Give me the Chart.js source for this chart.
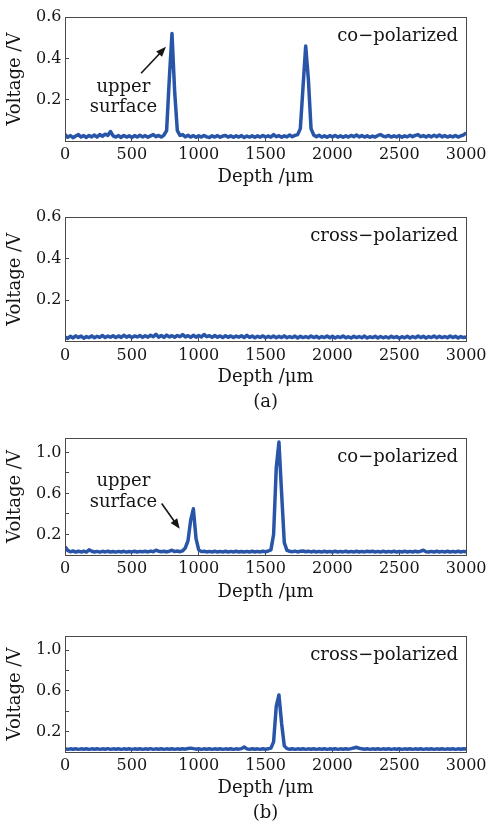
<!DOCTYPE html>
<html><head><meta charset="utf-8">
<script src="https://cdn.jsdelivr.net/npm/chart.js@4/dist/chart.umd.min.js"></script>
<style>
html,body{margin:0;padding:0;background:#fff;width:495px;height:828px;overflow:hidden}
.p{position:absolute;left:0;width:495px}
canvas{display:block}
</style></head><body>
<div class="p" style="top:0;height:200px"><canvas id="c1" width="495" height="200"></canvas></div>
<div class="p" style="top:200px;height:215px"><canvas id="c2" width="495" height="215"></canvas></div>
<div class="p" style="top:415px;height:200px"><canvas id="c3" width="495" height="200"></canvas></div>
<div class="p" style="top:615px;height:213px"><canvas id="c4" width="495" height="213"></canvas></div>
<script>
// ---- data (depth step 20 µm, 0..3000) ----
const depth = Array.from({length: 151}, (_, i) => i * 20);
const xTicks = [0, 500, 1000, 1500, 2000, 2500, 3000];
const yTicksA = [0.2, 0.4, 0.6];
const yLabelsA = ['0.2', '0.4', '0.6'];
const yTicksB = [0.2, 0.4, 0.6, 0.8, 1.0];
const yLabelsB = ['0.2', '', '0.6', '', '1.0'];

const coA = [
0.032,0.018,0.026,0.016,0.024,0.031,0.019,0.026,0.017,0.027,
0.02,0.029,0.019,0.031,0.023,0.033,0.027,0.046,0.025,0.019,
0.026,0.017,0.027,0.019,0.025,0.017,0.026,0.019,0.028,0.02,
0.026,0.018,0.025,0.031,0.021,0.027,0.019,0.029,0.05,0.3,
0.52,0.24,0.05,0.027,0.031,0.02,0.028,0.019,0.026,0.018,
0.025,0.019,0.027,0.02,0.017,0.025,0.019,0.026,0.018,0.024,
0.027,0.019,0.025,0.018,0.025,0.019,0.026,0.017,0.024,0.019,
0.025,0.018,0.025,0.019,0.027,0.02,0.025,0.019,0.031,0.021,
0.026,0.018,0.025,0.02,0.029,0.021,0.027,0.031,0.06,0.26,
0.46,0.3,0.06,0.029,0.021,0.028,0.019,0.025,0.018,0.026,
0.02,0.027,0.019,0.025,0.018,0.025,0.019,0.027,0.021,0.029,
0.02,0.026,0.019,0.025,0.018,0.024,0.019,0.027,0.031,0.023,
0.021,0.027,0.019,0.025,0.02,0.026,0.018,0.025,0.02,0.028,
0.021,0.027,0.031,0.021,0.026,0.019,0.027,0.02,0.028,0.021,
0.029,0.02,0.026,0.019,0.025,0.02,0.027,0.019,0.025,0.029,
0.04];

const crossA = [
0.022,0.015,0.025,0.017,0.027,0.019,0.026,0.016,0.024,0.019,
0.027,0.018,0.025,0.02,0.029,0.019,0.026,0.021,0.028,0.019,
0.027,0.02,0.03,0.021,0.028,0.019,0.027,0.022,0.029,0.02,
0.028,0.021,0.03,0.023,0.035,0.021,0.029,0.02,0.031,0.022,
0.028,0.021,0.029,0.023,0.033,0.022,0.028,0.02,0.03,0.021,
0.029,0.022,0.034,0.023,0.028,0.02,0.029,0.021,0.027,0.019,
0.028,0.02,0.027,0.019,0.026,0.021,0.028,0.019,0.03,0.02,
0.026,0.018,0.025,0.02,0.027,0.018,0.025,0.019,0.026,0.018,
0.025,0.019,0.027,0.018,0.024,0.019,0.026,0.017,0.025,0.019,
0.024,0.018,0.026,0.019,0.025,0.017,0.024,0.019,0.026,0.018,
0.025,0.017,0.024,0.019,0.026,0.018,0.023,0.017,0.025,0.019,
0.024,0.018,0.026,0.017,0.023,0.019,0.025,0.017,0.024,0.018,
0.023,0.017,0.025,0.019,0.024,0.016,0.023,0.018,0.025,0.017,
0.024,0.018,0.026,0.019,0.025,0.017,0.024,0.019,0.026,0.018,
0.025,0.019,0.024,0.018,0.026,0.019,0.025,0.017,0.024,0.019,
0.022];

const coB = [
0.08,0.045,0.031,0.039,0.029,0.037,0.03,0.036,0.029,0.05,
0.037,0.029,0.035,0.028,0.036,0.03,0.037,0.029,0.034,0.028,
0.035,0.029,0.036,0.028,0.034,0.03,0.037,0.029,0.035,0.031,
0.036,0.03,0.038,0.032,0.046,0.037,0.031,0.036,0.03,0.037,
0.046,0.033,0.039,0.032,0.041,0.07,0.14,0.34,0.45,0.16,
0.05,0.033,0.037,0.03,0.035,0.029,0.036,0.03,0.035,0.029,
0.036,0.03,0.035,0.029,0.036,0.03,0.034,0.029,0.035,0.03,
0.036,0.029,0.035,0.03,0.037,0.031,0.039,0.05,0.2,0.85,
1.1,0.6,0.12,0.045,0.037,0.031,0.038,0.03,0.036,0.039,
0.032,0.037,0.03,0.036,0.029,0.035,0.03,0.036,0.029,0.035,
0.03,0.036,0.029,0.035,0.03,0.037,0.029,0.035,0.03,0.036,
0.029,0.035,0.03,0.037,0.031,0.036,0.029,0.035,0.03,0.036,
0.03,0.035,0.029,0.036,0.03,0.035,0.029,0.036,0.03,0.035,
0.029,0.036,0.03,0.037,0.046,0.032,0.029,0.035,0.03,0.036,
0.029,0.035,0.03,0.036,0.029,0.035,0.03,0.036,0.029,0.035,
0.032];

const crossB = [
0.033,0.026,0.031,0.027,0.032,0.026,0.031,0.027,0.032,0.026,
0.031,0.027,0.032,0.026,0.031,0.027,0.033,0.026,0.031,0.027,
0.032,0.026,0.031,0.027,0.032,0.026,0.031,0.027,0.032,0.026,
0.031,0.027,0.033,0.026,0.031,0.027,0.032,0.026,0.031,0.027,
0.032,0.026,0.031,0.027,0.032,0.028,0.035,0.038,0.033,0.028,
0.032,0.026,0.031,0.027,0.032,0.026,0.031,0.027,0.032,0.026,
0.031,0.027,0.032,0.026,0.031,0.028,0.033,0.05,0.031,0.026,
0.032,0.027,0.031,0.026,0.032,0.028,0.031,0.038,0.1,0.45,
0.56,0.28,0.06,0.033,0.027,0.032,0.026,0.031,0.027,0.032,
0.026,0.031,0.027,0.032,0.026,0.031,0.027,0.032,0.026,0.031,
0.027,0.032,0.026,0.031,0.027,0.032,0.028,0.033,0.04,0.046,
0.037,0.031,0.027,0.032,0.026,0.031,0.027,0.032,0.026,0.031,
0.027,0.032,0.026,0.031,0.027,0.032,0.026,0.031,0.027,0.032,
0.026,0.031,0.027,0.032,0.026,0.031,0.027,0.032,0.026,0.031,
0.027,0.032,0.026,0.031,0.027,0.032,0.026,0.031,0.027,0.032,
0.029];

// ---- style ----
const FONT = "'DejaVu Serif', serif";
const LINE = '#2955a8';
const FRAME = '#4a4a4a';
const TEXT = '#151515';

const deco = {
  id: 'deco',
  afterDraw(chart) {
    const o = chart.options.plugins.deco;
    const ctx = chart.ctx, a = chart.chartArea;
    ctx.save();
    ctx.strokeStyle = FRAME; ctx.lineWidth = 1;
    ctx.strokeRect(Math.round(a.left) + 0.5, Math.round(a.top) + 0.5, Math.round(a.right - a.left), Math.round(a.bottom - a.top));
    ctx.fillStyle = TEXT;
    ctx.font = '18px ' + FONT;
    ctx.textAlign = 'right'; ctx.textBaseline = 'middle';
    ctx.fillText(o.corner, a.right - 8, a.top + 19);
    if (o.note) {
      const xs = chart.scales.x, ys = chart.scales.y;
      ctx.textAlign = 'center';
      ctx.fillText('upper', xs.getPixelForValue(o.note.tx), ys.getPixelForValue(o.note.ty1));
      ctx.fillText('surface', xs.getPixelForValue(o.note.tx), ys.getPixelForValue(o.note.ty2));
      const x1 = xs.getPixelForValue(o.note.ax1), y1 = ys.getPixelForValue(o.note.ay1);
      const x2 = xs.getPixelForValue(o.note.ax2), y2 = ys.getPixelForValue(o.note.ay2);
      const ang = Math.atan2(y2 - y1, x2 - x1);
      ctx.strokeStyle = TEXT; ctx.lineWidth = 1.6;
      ctx.beginPath(); ctx.moveTo(x1, y1);
      ctx.lineTo(x2 - 6 * Math.cos(ang), y2 - 6 * Math.sin(ang)); ctx.stroke();
      ctx.beginPath();
      ctx.moveTo(x2, y2);
      ctx.lineTo(x2 - 10 * Math.cos(ang) + 4 * Math.sin(ang), y2 - 10 * Math.sin(ang) - 4 * Math.cos(ang));
      ctx.lineTo(x2 - 10 * Math.cos(ang) - 4 * Math.sin(ang), y2 - 10 * Math.sin(ang) + 4 * Math.cos(ang));
      ctx.closePath(); ctx.fill();
    }
    ctx.restore();
  }
};

function panel(id, values, o) {
  new Chart(document.getElementById(id), {
    type: 'line',
    data: { datasets: [{ data: depth.map((d, i) => ({x: d, y: values[i]})),
      borderColor: LINE, borderWidth: 3.5, pointRadius: 0, tension: 0, fill: false,
      borderJoinStyle: 'round' }] },
    options: {
      responsive: false, animation: false, events: [],
      layout: { padding: { top: o.padTop, right: 21, left: 0, bottom: 0 } },
      plugins: { legend: { display: false }, tooltip: { enabled: false },
        deco: { corner: o.corner, note: o.note } },
      scales: {
        x: {
          type: 'linear', min: 0, max: 3000,
          afterBuildTicks: s => { s.ticks = xTicks.map(v => ({value: v})); },
          afterFit: s => { s.height = o.xH; },
          border: { color: FRAME, width: 1 },
          grid: { drawOnChartArea: false, tickLength: -4, tickColor: FRAME },
          ticks: { font: { family: FONT, size: 16 }, color: TEXT, padding: 8.5, maxRotation: 0,
            callback: v => String(v) },
          title: { display: true, text: o.xTitle, color: TEXT,
            font: { family: FONT, size: 18, lineHeight: o.xTitle.length > 1 ? 1.4 : 1.2 },
            padding: { top: 0, bottom: o.tPad } }
        },
        y: {
          min: 0, max: o.yMax,
          afterBuildTicks: s => { s.ticks = o.yTicks.map(v => ({value: v})); },
          afterFit: s => { s.width = 65; },
          border: { color: FRAME, width: 1 },
          grid: { drawOnChartArea: false, tickLength: -4, tickColor: FRAME },
          ticks: { font: { family: FONT, size: 16 }, color: TEXT, padding: 7.5,
            callback: (v, i) => o.yLabels[i] },
          title: { display: true, text: 'Voltage /V', color: TEXT,
            font: { family: FONT, size: 18, lineHeight: 1.2 }, padding: { top: 5, bottom: 0 } }
        }
      }
    },
    plugins: [deco]
  });
}

panel('c1', coA, { padTop: 15, xH: 59, tPad: 12.2, xTitle: ['Depth /μm'], yMax: 0.6,
  yTicks: yTicksA, yLabels: yLabelsA, corner: 'co−polarized',
  note: { tx: 437, ty1: 0.26, ty2: 0.163, ax1: 569, ay1: 0.328, ax2: 755, ay2: 0.456 } });
panel('c2', crossA, { padTop: 17, xH: 73.5, tPad: 0.2, xTitle: ['Depth /μm', '(a)'], yMax: 0.6,
  yTicks: yTicksA, yLabels: yLabelsA, corner: 'cross−polarized' });
panel('c3', coB, { padTop: 23, xH: 60, tPad: 12.2, xTitle: ['Depth /μm'], yMax: 1.14,
  yTicks: yTicksB, yLabels: yLabelsB, corner: 'co−polarized',
  note: { tx: 437, ty1: 0.717, ty2: 0.512, ax1: 723, ay1: 0.502, ax2: 858, ay2: 0.255 } });
panel('c4', crossB, { padTop: 21, xH: 76, tPad: 2.2, xTitle: ['Depth /μm', '(b)'], yMax: 1.14,
  yTicks: yTicksB, yLabels: yLabelsB, corner: 'cross−polarized' });
</script>
</body></html>
